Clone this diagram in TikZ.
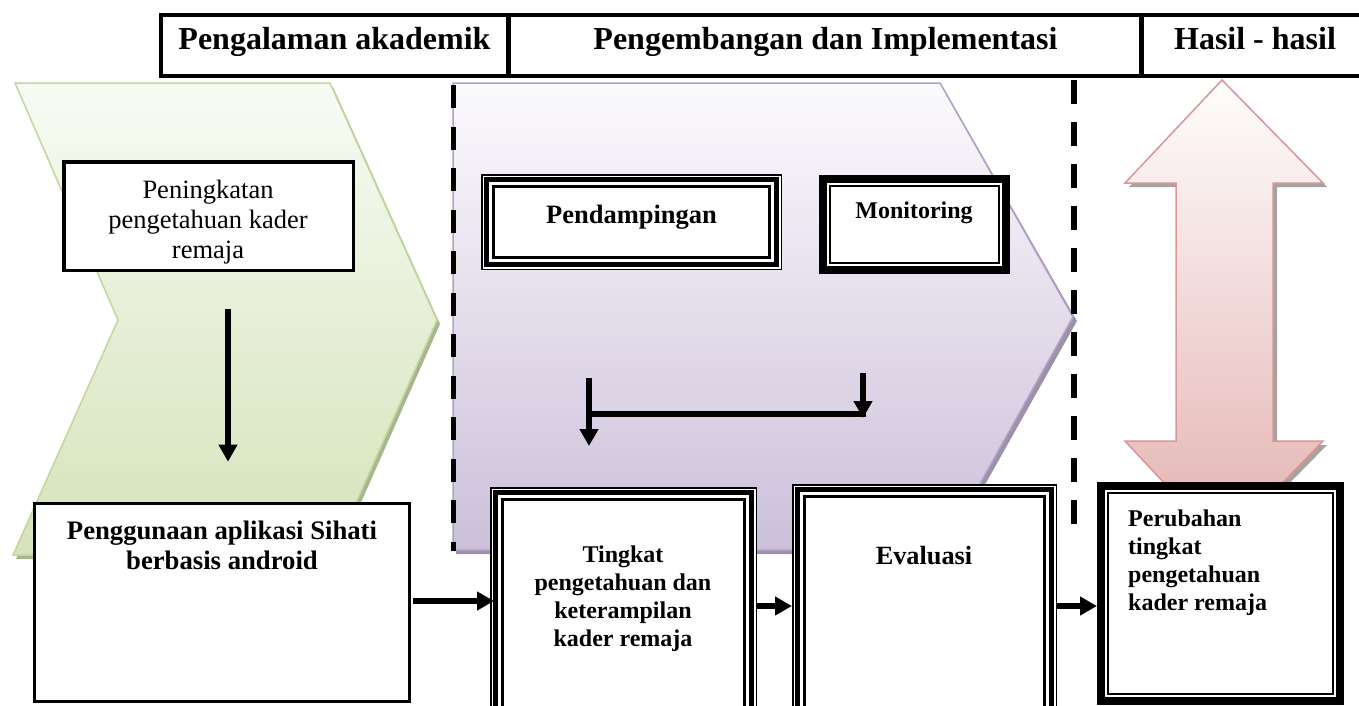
\documentclass[tikz,border=0pt]{standalone}
\usepackage{fontspec}
\setmainfont{Liberation Serif}
\usetikzlibrary{arrows.meta,calc}

\definecolor{grnB}{HTML}{C3D69B}
\definecolor{grnT}{HTML}{F8FBF4}
\definecolor{grnBot}{HTML}{D5E3BA}
\definecolor{grnS}{HTML}{A8B68F}
\definecolor{purB}{HTML}{B2A1C7}
\definecolor{purT}{HTML}{FBFAFD}
\definecolor{purBot}{HTML}{CCC0DA}
\definecolor{purS}{HTML}{9C91A8}
\definecolor{pnkB}{HTML}{D99694}
\definecolor{pnkT}{HTML}{FFFDFD}
\definecolor{pnkBot}{HTML}{E3B2B1}
\definecolor{pnkS}{HTML}{A8A2A2}

\tikzset{
  arr/.style={line width=5.5pt, -{Triangle[length=17pt,width=18pt]}},
  bare/.style={line width=5.5pt},
  hdr/.style={font=\fontsize{32}{36}\selectfont\bfseries, inner sep=0pt, anchor=base},
  geo/.style={inner sep=0pt, outer sep=0pt, fill=white},
  plainbox/.style={draw, fill=white, inner sep=0pt, outer sep=0pt},
  dashline/.style={line width=5.5pt, dash pattern=on 23pt off 18.5pt},
  txt/.style={inner sep=0pt, anchor=base, align=center},
}
\newcommand\tribox[1]{%
  \draw[line width=1.5pt] ([shift={(0.75,0.75)}]#1.north west) rectangle ([shift={(-0.75,-0.75)}]#1.south east);
  \draw[line width=5pt] ([shift={(5.5,5.5)}]#1.north west) rectangle ([shift={(-5.5,-5.5)}]#1.south east);
  \draw[line width=2.2pt] ([shift={(12.5,12.5)}]#1.north west) rectangle ([shift={(-12.5,-12.5)}]#1.south east);}
\newcommand\thkbox[1]{%
  \draw[line width=8pt] ([shift={(4,4)}]#1.north west) rectangle ([shift={(-4,-4)}]#1.south east);
  \draw[line width=1.8pt] ([shift={(10.8,10.8)}]#1.north west) rectangle ([shift={(-10.8,-10.8)}]#1.south east);}

\begin{document}
\begin{tikzpicture}[x=1pt,y=-1pt]
\useasboundingbox (0,0) rectangle (1359,705);

% green chevron
\fill[grnS] (18,87) -- (333,87) -- (440,324) -- (336,559) -- (16,559) -- (121,324) -- cycle;
\path[draw=grnB, line width=1.5pt, top color=grnT, bottom color=grnBot]
  (15,83) -- (330,83) -- (437,320) -- (333,555) -- (13,555) -- (118,320) -- cycle;

% purple pentagon
\fill[purS] (456,87) -- (943,87) -- (1077,321) -- (946,554) -- (456,554) -- cycle;
\path[draw=purB, line width=1.5pt, top color=purT, bottom color=purBot]
  (453,83) -- (940,83) -- (1073,317) -- (943,550) -- (453,550) -- cycle;

% pink double arrow
\fill[pnkS] (1225,84) -- (1327,187) -- (1277,187) -- (1277,445) -- (1327,445) -- (1225,549)
  -- (1129,445) -- (1180,445) -- (1180,187) -- (1129,187) -- cycle;
\path[draw=pnkB, line width=1.5pt, top color=pnkT, bottom color=pnkBot]
  (1222,80) -- (1323,183) -- (1273,183) -- (1273,441) -- (1323,441) -- (1222,545)
  -- (1125,441) -- (1176,441) -- (1176,183) -- (1125,183) -- cycle;

% dashed separators
\draw[dashline] (453.5,85) -- (453.5,551);
\draw[dashline, dash pattern=on 24pt off 18pt] (1074,80) -- (1074,525);

% header
\draw[line width=4.5pt] (1370,15) -- (161,15) -- (161,76) -- (1370,76);
\draw[line width=5pt] (508.5,15) -- (508.5,76);
\draw[line width=5pt] (1141.5,15) -- (1141.5,76);
\node[hdr] (h1) at (334.5,49) {Pengalaman akademik};
\node[hdr] (h2) at (825.5,49) {Pengembangan dan Implementasi};
\node[hdr] (h3) at (1255,49) {Hasil - hasil};

% boxes
\node[plainbox, line width=3.5pt, minimum width=289.5pt, minimum height=108.5pt] (pk) at (208.5,216) {};
\node[plainbox, line width=3.3pt, minimum width=374.7pt, minimum height=197.7pt] (pg) at (222,602.5) {};
\node[geo, minimum width=301pt, minimum height=96pt] (pd) at (631.5,222) {};
\tribox{pd}
\node[geo, minimum width=191pt, minimum height=99pt] (mo) at (914.5,224.5) {};
\thkbox{mo}
\node[geo, minimum width=267pt, minimum height=260pt] (tk) at (623.5,617) {};
\tribox{tk}
\node[geo, minimum width=265pt, minimum height=262pt] (ev) at (924.5,615) {};
\tribox{ev}
\node[geo, minimum width=247pt, minimum height=223pt] (pr) at (1220.5,593.5) {};
\thkbox{pr}

% texts (base anchor = baseline of last line)
\node[txt, font=\fontsize{26.5}{30}\selectfont] (tpk) at (208,258) {Peningkatan\\pengetahuan kader\\remaja};
\node[txt, font=\fontsize{26.7}{30}\selectfont\bfseries] (tpg) at (222,569) {Penggunaan aplikasi Sihati\\berbasis android};
\node[txt, font=\fontsize{26.5}{30}\selectfont\bfseries] (tpd) at (631.5,223) {Pendampingan};
\node[txt, font=\fontsize{24}{28}\selectfont\bfseries] (tmo) at (914,218) {Monitoring};
\node[txt, font=\fontsize{24}{27.7}\selectfont\bfseries] (ttk) at (623,646) {Tingkat\\pengetahuan dan\\keterampilan\\kader remaja};
\node[txt, font=\fontsize{26.3}{30}\selectfont\bfseries] (tev) at (924,564) {Evaluasi};
\node[inner sep=0pt, anchor=base west, align=left, font=\fontsize{24}{27.7}\selectfont\bfseries] (tpr) at (1128,610) {Perubahan\\tingkat\\pengetahuan\\kader remaja};

% connectors
\draw[arr] ([xshift=19.5pt,yshift=-39pt]pk.south) -- ([xshift=6pt,yshift=42pt]pg.north);
\draw[arr] ([xshift=4pt,yshift=1.5pt]pg.east) -- ([xshift=4pt,yshift=1.5pt]pg.east -| tk.west);
\draw[arr] ([yshift=11pt]tk.east) -- ([yshift=11pt]tk.east -| ev.west);
\draw[arr] ([yshift=9pt]ev.east) -- ([yshift=9pt]ev.east -| pr.west);

\coordinate (l1) at (589,378);
\coordinate (l2) at (589,446);
\coordinate (m1) at (863,373);
\coordinate (m2) at (863,418);
\coordinate (hL) at (586.5,414);
\coordinate (hR) at (865.5,414);
\draw[bare] (hL) -- (hR);
\draw[arr] (l1) -- (l2);
\draw[arr] (m1) -- (m2);
\end{tikzpicture}
\end{document}
